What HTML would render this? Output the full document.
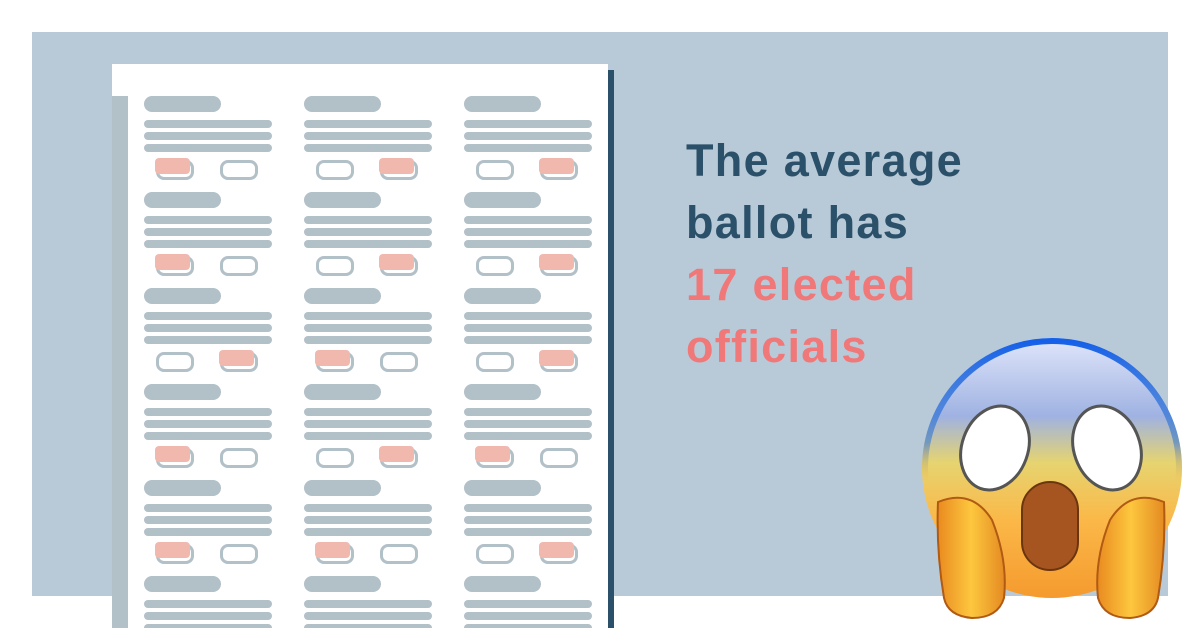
<!DOCTYPE html>
<html><head><meta charset="utf-8"><style>
html,body{margin:0;padding:0;background:#fff;width:1200px;height:628px;overflow:hidden}
#root{position:relative;width:1200px;height:628px;overflow:hidden;background:#fff;font-family:"Liberation Sans",sans-serif}
.abs{position:absolute}
.hl{position:absolute;background:#b2c0c8;border-radius:8px}
.ln{position:absolute;background:#b2c0c8;border-radius:4px;height:8px;width:128px}
.ob{position:absolute;width:32px;height:14px;border:3px solid #b2c0c8;border-radius:8px;background:#fff}
.pk{position:absolute;width:35px;height:16px;background:#f1b8ad;border-radius:4px}
.txt{position:absolute;left:686px;font-weight:bold;font-size:45px;line-height:62px;color:#2b5069;letter-spacing:1.3px}
</style></head><body>
<div id="root">
<div class="abs" style="left:32px;top:32px;width:1136px;height:564px;background:#b8cad8"></div>
<div class="abs" style="left:112px;top:64px;width:496px;height:564px;background:#fff;overflow:hidden">
<div id="ballot" style="position:absolute;left:-112px;top:-64px;width:1200px;height:628px"></div>
</div>
<div class="abs" style="left:608px;top:70px;width:6px;height:558px;background:#2b5069"></div>
<div class="abs" style="left:112px;top:96px;width:16px;height:532px;background:#b2c0c8"></div>
<div class="txt" style="top:130px">
<div>The average</div>
<div>ballot has</div>
<div style="color:#f07878">17 elected</div>
<div style="color:#f07878">officials</div>
</div>
<svg class="abs" style="left:900px;top:320px" width="300" height="308" viewBox="0 0 300 308">
<defs>
<linearGradient id="fg" x1="0" y1="0" x2="0" y2="1">
<stop offset="0" stop-color="#e0e6fa"/><stop offset="0.3" stop-color="#9fb2e2"/><stop offset="0.48" stop-color="#e6d470"/><stop offset="0.7" stop-color="#fbb848"/><stop offset="1" stop-color="#f59a2e"/></linearGradient>
<linearGradient id="rg" x1="0" y1="0" x2="0" y2="1"><stop offset="0" stop-color="#1560e8"/><stop offset="0.4" stop-color="#3a7ad0" stop-opacity="0.6"/><stop offset="0.55" stop-color="#f0a030" stop-opacity="0"/></linearGradient>
<linearGradient id="hg" x1="0" y1="0" x2="1" y2="0"><stop offset="0" stop-color="#e98a20"/><stop offset="0.5" stop-color="#fdc73e"/><stop offset="1" stop-color="#e48a22"/></linearGradient>
</defs>
<circle cx="152" cy="148" r="130" fill="url(#fg)"/>
<circle cx="152" cy="148" r="127" fill="none" stroke="url(#rg)" stroke-width="6"/>
<ellipse cx="95" cy="128" rx="33" ry="43" transform="rotate(20 95 128)" fill="#fff" stroke="#555" stroke-width="3"/>
<ellipse cx="207" cy="128" rx="33" ry="43" transform="rotate(-20 207 128)" fill="#fff" stroke="#555" stroke-width="3"/>
<rect x="122" y="162" width="56" height="88" rx="28" fill="#a65520" stroke="#6b3510" stroke-width="2"/>
<path d="M38 182 Q72 168 92 200 Q108 240 104 278 Q98 298 72 298 Q48 296 44 278 Q36 230 38 182Z" fill="url(#hg)" stroke="#b05a14" stroke-width="2"/>
<path d="M264 182 Q230 168 210 200 Q194 240 198 278 Q204 298 230 298 Q254 296 258 278 Q266 230 264 182Z" fill="url(#hg)" stroke="#b05a14" stroke-width="2"/>
</svg>
</div>
<script>
const picks=[["L","R","R"],["L","R","R"],["R","L","R"],["L","R","L"],["L","L","R"],["L","R","R"]];
const colX=[144,304,464];
const b=document.getElementById('ballot');
function mk(cls,x,y,w,h){const d=document.createElement('div');d.className=cls;d.style.left=x+'px';d.style.top=y+'px';if(w)d.style.width=w+'px';if(h)d.style.height=h+'px';b.appendChild(d);return d;}
picks.forEach((row,r)=>{row.forEach((p,c)=>{
const x=colX[c],y=96+r*96;
const h=mk('hl',x,y,77,16);


for(let i=0;i<3;i++){const l=mk('ln',x,y+24+i*12);

}
[["L",12],["R",76]].forEach(([s,dx])=>{
const o=mk('ob',x+dx,y+64);


if(p===s){const k=mk('pk',x+dx-1,y+62);

}
});
});});
</script>
</body></html>
